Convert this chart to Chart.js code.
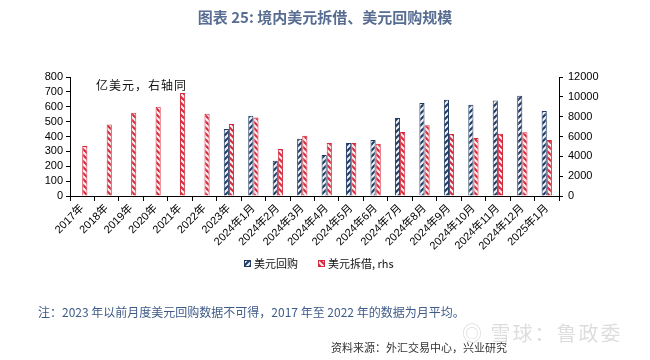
<!DOCTYPE html>
<html>
<head>
<meta charset="utf-8">
<script src="https://cdn.jsdelivr.net/npm/chart.js@4"></script>
<style>
  body { margin: 0; background: #fff; }
  #wrap { position: relative; width: 650px; height: 360px; overflow: hidden; }
  #c { position: absolute; left: 0; top: 0; }
  .txt { position: absolute; white-space: nowrap; font-family: "Noto Sans CJK SC", "Noto Sans", sans-serif; }
  #title { left: 0; width: 650px; top: 6px; text-align: center; font-size: 15px; font-weight: bold; color: #586d92; }
  #unit { left: 96px; top: 76px; font-size: 12px; color: #111; letter-spacing: 1px; }
  #note { left: 38px; top: 303px; font-size: 12px; color: #3f5b88; }
  #src { left: 331px; top: 339px; font-size: 11px; color: #333; }
  #wm { left: 462px; top: 318px; font-size: 20px; color: rgba(120,120,120,0.25); letter-spacing: 2px; }
</style>
</head>
<body>
<div id="wrap">
  <canvas id="c" width="650" height="360"></canvas>
  <div class="txt" id="title">图表 25: 境内美元拆借、美元回购规模</div>
  <div class="txt" id="unit">亿美元，右轴同</div>
  <div class="txt" id="note">注：2023 年以前月度美元回购数据不可得，2017 年至 2022 年的数据为月平均。</div>
  <div class="txt" id="wm">◎ 雪球：鲁政委</div>
  <div class="txt" id="src">资料来源：外汇交易中心，兴业研究</div>
</div>
<script>
const categories = ['2017年', '2018年', '2019年', '2020年', '2021年', '2022年', '2023年',
    '2024年1月', '2024年2月', '2024年3月', '2024年4月', '2024年5月', '2024年6月',
    '2024年7月', '2024年8月', '2024年9月', '2024年10月', '2024年11月', '2024年12月', '2025年1月'];

// 美元回购, left axis (亿美元)
const repo = [null, null, null, null, null, null, 451,
    539, 237, 385, 276, 356, 376, 525, 626, 647, 613, 642, 674, 572];

// 美元拆借, right axis (亿美元)
const lending = [5050, 7200, 8390, 9000, 10380, 8290, 7270,
    7910, 4730, 6085, 5350, 5340, 5270, 6456, 7132, 6254, 5848, 6287, 6423, 5645];

const leftTicks = [0, 800, 100];
const rightTicks = [0, 12000, 2000];

const navy = '#1f3a63';
const red = '#d42a3c';

let ctx = document.getElementById('c').getContext('2d');

function hatch(fg, bg, rising) {
    let c = document.createElement('canvas');
    c.width = 6; c.height = 6;
    let g = c.getContext('2d');
    g.fillStyle = bg;
    g.fillRect(0, 0, 6, 6);
    g.strokeStyle = fg;
    g.lineWidth = 2;
    g.beginPath();
    if (rising) {
        g.moveTo(-1, 7); g.lineTo(7, -1);
        g.moveTo(-1, 1); g.lineTo(1, -1);
        g.moveTo(5, 7); g.lineTo(7, 5);
    } else {
        g.moveTo(-1, -1); g.lineTo(7, 7);
        g.moveTo(5, -1); g.lineTo(7, 1);
        g.moveTo(-1, 5); g.lineTo(1, 7);
    }
    g.stroke();
    return ctx.createPattern(c, 'repeat');
}

const bluePat = hatch(navy, '#eef1f6', true);
const redPat = hatch(red, '#fbeef0', false);

const tickFont = { family: '"Liberation Sans", "Noto Sans CJK SC", sans-serif', size: 11 };

const legendPlugin = {
    id: 'manualLegend',
    afterDraw(chart) {
        let c = chart.ctx;
        c.save();
        let items = [
            { x: 244, pat: bluePat, col: navy, text: '美元回购' },
            { x: 318, pat: redPat, col: red, text: '美元拆借, rhs' }
        ];
        c.font = '11px "Noto Sans CJK SC", sans-serif';
        c.textBaseline = 'middle';
        items.forEach(it => {
            c.fillStyle = it.pat;
            c.fillRect(it.x, 260, 7, 7);
            c.strokeStyle = it.col;
            c.lineWidth = 1;
            c.strokeRect(it.x + 0.5, 260.5, 6, 6);
            c.fillStyle = '#111';
            c.fillText(it.text, it.x + 10, 264);
        });
        c.restore();
    }
};

new Chart(ctx, {
    type: 'bar',
    data: {
        labels: categories,
        datasets: [{
            label: '美元回购',
            data: repo,
            yAxisID: 'y',
            backgroundColor: bluePat,
            borderColor: navy,
            borderWidth: 1,
            categoryPercentage: 0.42,
            barPercentage: 1.0
        }, {
            label: '美元拆借, rhs',
            data: lending,
            yAxisID: 'y1',
            backgroundColor: redPat,
            borderColor: red,
            borderWidth: 1,
            categoryPercentage: 0.42,
            barPercentage: 1.0
        }]
    },
    options: {
        responsive: false,
        animation: false,
        layout: { padding: { top: 77, left: 0, right: 0, bottom: 0 } },
        plugins: {
            legend: { display: false },
            tooltip: { enabled: false }
        },
        scales: {
            x: {
                grid: { drawOnChartArea: false, drawTicks: true, tickLength: 5, color: '#000', offset: true },
                border: { color: '#000' },
                ticks: { minRotation: 45, maxRotation: 45, autoSkip: false, font: tickFont, color: '#000', padding: 1 },
                afterFit: s => { s.height = 164; }
            },
            y: {
                position: 'left',
                min: leftTicks[0],
                max: leftTicks[1],
                ticks: { stepSize: leftTicks[2], autoSkip: false, font: tickFont, color: '#000', padding: 3,
                    callback: v => String(v) },
                grid: { drawOnChartArea: false, tickLength: 4, color: '#000' },
                border: { color: '#000' },
                afterFit: s => { s.width = 70; }
            },
            y1: {
                position: 'right',
                min: rightTicks[0],
                max: rightTicks[1],
                ticks: { stepSize: rightTicks[2], autoSkip: false, font: tickFont, color: '#000', padding: 5,
                    callback: v => String(v) },
                grid: { drawOnChartArea: false, tickLength: 4, color: '#000' },
                border: { color: '#000' },
                afterFit: s => { s.width = 91; }
            }
        }
    },
    plugins: [legendPlugin]
});
</script>
</body>
</html>
